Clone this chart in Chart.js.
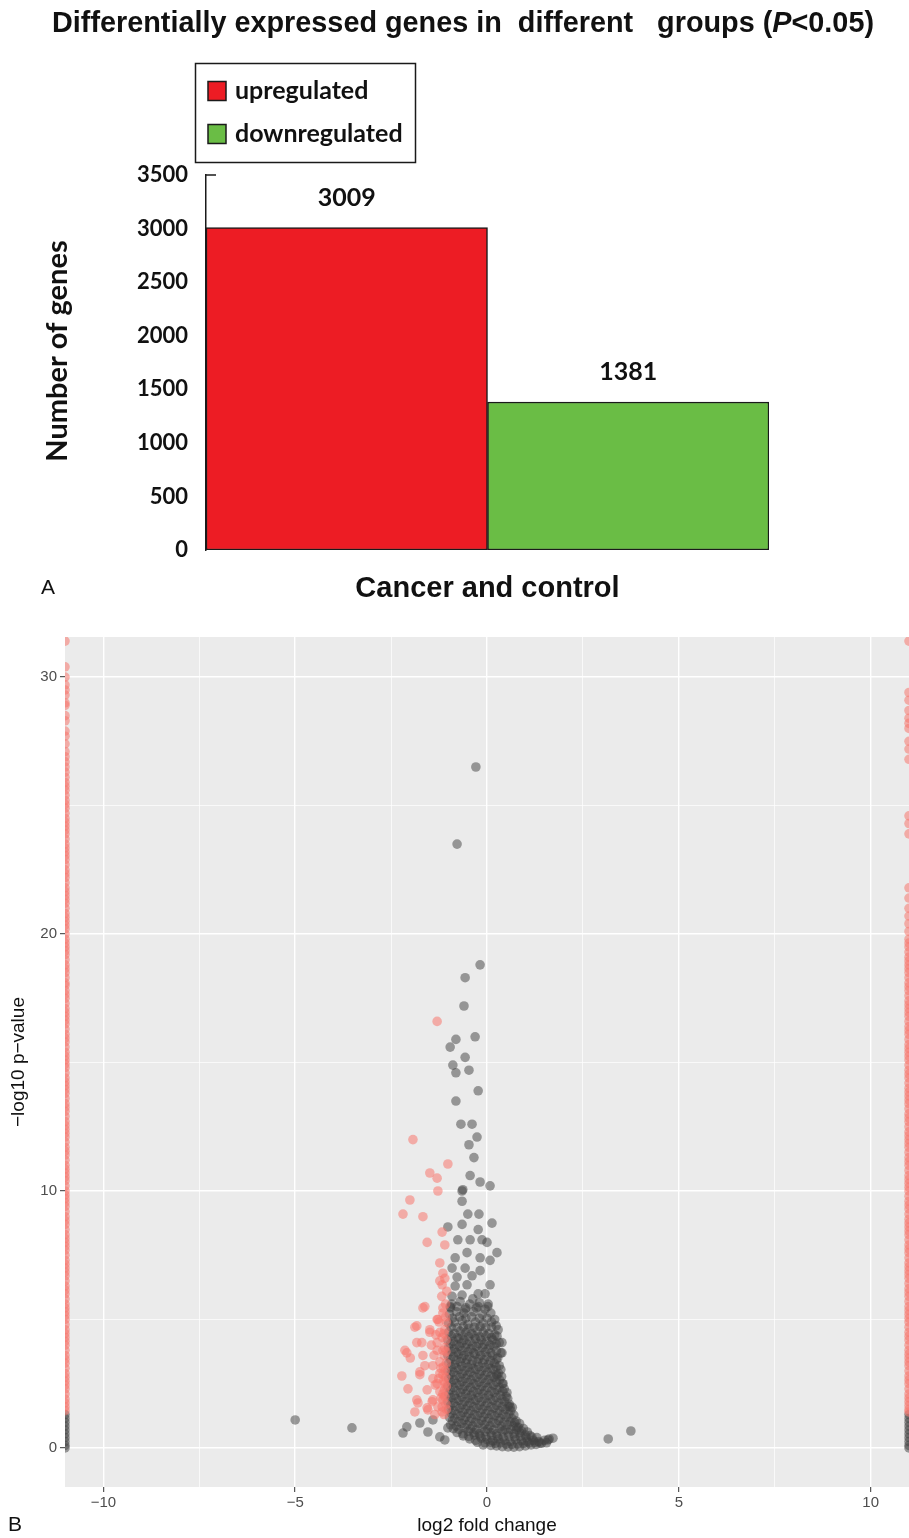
<!DOCTYPE html>
<html>
<head>
<meta charset="utf-8">
<script src="https://cdn.jsdelivr.net/npm/chart.js@4.4.1/dist/chart.umd.min.js"></script>
<style>
  body { margin: 0; background: #fff; }
  #wrap { position: relative; width: 909px; height: 1538px; }
  canvas { position: absolute; left: 0; }
</style>
</head>
<body>
<div id="wrap">
  <canvas id="barA" width="909" height="610" style="top:0"></canvas>
  <canvas id="volcanoB" width="909" height="928" style="top:610px"></canvas>
</div>
<script>
// ---- panel A: DEG counts ----
const groups = ['Cancer and control'];
const seriesNames = ['upregulated', 'downregulated'];
const upregulated = [3009];
const downregulated = [1381];
const countTicks = [0, 500, 1000, 1500, 2000, 2500, 3000, 3500];

// ---- panel B: volcano (log2 fold change, -log10 p) ----
const fcTicks = [-10, -7.5, -5, -2.5, 0, 2.5, 5, 7.5, 10];
const pTicks = [0, 5, 10, 15, 20, 25, 30];
const fcRange = [-11, 11];
const pRange = [-1.52, 31.56];

// significant genes (red)
const sigPoints = [
  [-1.30,16.6],[-1.93,12.0],[-1.02,11.05],[-1.49,10.7],[-1.30,10.5],[-1.28,10.0],[-2.01,9.65],[-2.19,9.1],
  [-1.67,9.0],[-1.17,8.4],[-1.56,8.0],[-1.10,7.9],[-1.23,7.2],[-1.15,6.8],[-1.23,6.5],[-1.17,6.35],
  [-1.62,5.5],[-1.15,5.45],[-1.28,5.0],[-1.83,4.75],[-1.49,4.6],[-1.23,4.5],[-1.67,5.45],[-1.30,5.0],
  [-1.15,5.25],[-1.88,4.7],[-1.49,4.5],[-1.17,4.3],[-2.14,3.8],[-1.70,4.1],[-1.30,3.8],[-1.10,3.9],
  [-2.0,3.5],[-1.62,3.2],[-1.23,3.35],[-2.22,2.8],[-1.75,2.85],[-1.41,2.7],[-1.15,2.85],[-2.06,2.3],
  [-1.56,2.26],[-1.23,2.2],[-1.83,1.87],[-1.43,1.8],[-1.15,1.87],[-1.88,1.4],[-1.54,1.48],[-1.17,1.4],
  [-2.09,3.7],[-1.83,4.1],[-1.67,3.6],[-1.30,4.1],[-1.15,3.8],[-1.41,3.2],[-1.75,2.96],[-1.23,2.9],
  [-1.30,2.5],[-1.15,2.1],[-1.80,1.75],[-1.41,1.87],[-1.56,1.56],[-1.17,1.6],[-1.10,2.5],
  [-1.08,5.6],[-1.06,4.9],[-1.10,4.6],[-1.07,4.2],[-1.12,3.6],[-1.06,3.3],[-1.09,3.0],[-1.13,2.6],
  [-1.06,2.4],[-1.10,2.0],[-1.07,1.7],[-1.12,1.3],[-1.05,6.1],[-1.10,6.6],[-1.18,5.9],[-1.25,4.9],
  [-1.33,4.4],[-1.20,3.1],[-1.35,2.45],[-1.28,1.6],[-1.38,3.6],[-1.45,4.0],[-1.26,2.7],[-1.36,1.3],
  [-1.08,5.1],[-1.12,4.45],[-1.07,3.75],[-1.14,3.15],[-1.08,2.75],[-1.11,2.25],[-1.06,1.5],[-1.2,1.95]
];

// non-significant genes (grey): scattered points
const nsOutliers = [
  [-0.29,26.5],[-0.78,23.5],[-0.18,18.8],[-0.57,18.3],[-0.60,17.2],[-0.31,16.0],[-0.81,15.9],[-0.96,15.6],
  [-0.57,15.2],[-0.89,14.9],[-0.81,14.6],[-0.47,14.7],[-0.23,13.9],[-0.81,13.5],[-0.68,12.6],[-0.39,12.6],
  [-0.26,12.1],[-0.47,11.8],[-0.34,11.3],[-0.44,10.6],[-0.18,10.35],[0.08,10.2],[-0.65,10.0],[-0.63,10.05],
  [-0.65,9.6],[-0.50,9.1],[-0.21,9.1],[0.13,8.75],[-1.02,8.6],[-0.65,8.7],[-0.23,8.5],[-0.76,8.1],
  [-0.44,8.1],[-0.13,8.1],[0.0,8.0],[0.26,7.6],[-0.83,7.4],[-0.52,7.6],[-0.18,7.4],[0.08,7.3],
  [-0.91,7.0],[-0.57,7.0],[-0.78,6.65],[-0.39,6.7],[-0.18,6.9],[0.08,6.35],[-0.83,6.3],[-0.52,6.35],
  [-0.23,6.0],[-0.91,5.9],[-0.65,5.95],[-0.37,5.8],[-0.05,6.0],[0.03,5.6],[-0.96,5.5],[-0.57,5.4],
  [-0.23,5.5],[0.29,4.6],[0.39,4.1],[0.39,3.7],[0.26,2.8],[0.60,1.6],[0.78,0.8],
  [-2.19,0.58],[-2.09,0.82],[-1.75,0.97],[-1.54,0.62],[-1.41,1.09],[-1.23,0.43],[-1.10,0.31],[-1.02,0.78],
  [-5.0,1.09],[-3.52,0.78],[3.16,0.35],[3.75,0.66],[1.59,0.31],[1.38,0.19]
];

// non-significant genes (grey): the dense core near zero
const nsCore = [
  [-0.92,5.6],[-0.70,5.7],[-0.45,5.6],[-0.20,5.65],[0.02,5.5],
  [-0.95,5.45],[-0.78,5.5],[-0.55,5.45],[-0.28,5.45],[-0.05,5.4],
  [-0.98,5.2],[-0.80,5.3],[-0.60,5.25],[-0.35,5.3],[-0.12,5.2],[0.10,5.25],
  [-0.90,5.05],[-0.72,5.1],[-0.55,5.05],[-0.40,5.1],[-0.20,5.05],[0.0,5.05],[0.20,5.0],
  [-1.0,4.85],[-0.85,4.9],[-0.65,4.95],[-0.50,4.8],[-0.30,4.9],[-0.10,4.85],[0.12,4.9],
  [-0.93,4.7],[-0.78,4.68],[-0.62,4.72],[-0.47,4.66],[-0.33,4.7],[-0.18,4.72],[-0.03,4.68],[0.12,4.7],[0.24,4.75],
  [-1.0,4.5],[-0.85,4.45],[-0.70,4.55],[-0.55,4.5],[-0.40,4.45],[-0.25,4.55],[-0.10,4.5],[0.05,4.45],[0.20,4.4],
  [-0.93,4.35],[-0.78,4.3],[-0.63,4.38],[-0.48,4.33],[-0.33,4.36],[-0.18,4.32],[-0.03,4.35],[0.12,4.3],[0.26,4.35],
  [-1.02,4.2],[-0.88,4.15],[-0.73,4.25],[-0.60,4.2],[-0.45,4.15],[-0.30,4.25],[-0.15,4.2],[0.0,4.15],[0.15,4.2],[0.32,4.1],
  [-0.95,4.05],[-0.80,4.02],[-0.66,4.08],[-0.52,4.04],[-0.37,4.0],[-0.22,4.06],[-0.07,4.03],[0.08,4.0],[0.24,4.05],
  [-1.0,3.9],[-0.86,3.85],[-0.72,3.95],[-0.57,3.9],[-0.42,3.85],[-0.28,3.95],[-0.12,3.9],[0.03,3.85],[0.18,3.95],[0.36,3.7],
  [-0.94,3.75],[-0.79,3.72],[-0.65,3.78],[-0.50,3.74],[-0.35,3.7],[-0.20,3.76],[-0.05,3.73],[0.10,3.7],[0.25,3.78],
  [-1.02,3.6],[-0.87,3.55],[-0.74,3.65],[-0.60,3.6],[-0.46,3.55],[-0.31,3.65],[-0.16,3.6],[0.0,3.55],[0.15,3.6],[0.28,3.5],
  [-0.95,3.45],[-0.80,3.42],[-0.66,3.48],[-0.52,3.44],[-0.37,3.4],[-0.22,3.46],[-0.07,3.43],[0.09,3.4],[0.24,3.45],
  [-1.0,3.3],[-0.85,3.25],[-0.70,3.35],[-0.56,3.3],[-0.41,3.25],[-0.26,3.35],[-0.11,3.3],[0.04,3.25],[0.19,3.3],[0.32,3.2],
  [-0.94,3.15],[-0.80,3.12],[-0.65,3.18],[-0.50,3.14],[-0.36,3.1],[-0.21,3.16],[-0.06,3.13],[0.09,3.1],[0.24,3.15],[0.36,3.05],
  [-1.02,3.0],[-0.88,2.95],[-0.73,3.05],[-0.58,3.0],[-0.44,2.95],[-0.29,3.05],[-0.14,3.0],[0.01,2.95],[0.16,3.05],[0.30,2.9],
  [-0.95,2.85],[-0.80,2.82],[-0.65,2.88],[-0.50,2.84],[-0.35,2.8],[-0.20,2.86],[-0.05,2.83],[0.10,2.8],[0.25,2.86],[0.38,2.78],
  [-1.0,2.7],[-0.86,2.65],[-0.71,2.75],[-0.57,2.7],[-0.42,2.65],[-0.27,2.75],[-0.12,2.7],[0.03,2.65],[0.18,2.75],[0.33,2.65],[0.42,2.5],
  [-0.94,2.55],[-0.80,2.52],[-0.65,2.58],[-0.50,2.54],[-0.35,2.5],[-0.20,2.56],[-0.05,2.53],[0.10,2.5],[0.25,2.56],[0.40,2.5],
  [-1.02,2.4],[-0.87,2.35],[-0.72,2.45],[-0.58,2.4],[-0.43,2.35],[-0.28,2.45],[-0.13,2.4],[0.02,2.35],[0.17,2.45],[0.32,2.35],[0.45,2.3],
  [-0.95,2.25],[-0.80,2.22],[-0.64,2.28],[-0.50,2.24],[-0.35,2.2],[-0.20,2.26],[-0.05,2.23],[0.11,2.2],[0.26,2.26],[0.41,2.2],[0.52,2.15],
  [-1.0,2.1],[-0.85,2.05],[-0.70,2.15],[-0.56,2.1],[-0.41,2.05],[-0.26,2.15],[-0.11,2.1],[0.04,2.05],[0.19,2.15],[0.34,2.05],[0.50,2.0],
  [-0.94,1.95],[-0.80,1.92],[-0.65,1.98],[-0.50,1.94],[-0.36,1.9],[-0.21,1.96],[-0.06,1.93],[0.09,1.9],[0.24,1.96],[0.39,1.9],[0.54,1.92],
  [-1.02,1.8],[-0.88,1.75],[-0.73,1.85],[-0.58,1.8],[-0.44,1.75],[-0.29,1.85],[-0.14,1.8],[0.01,1.75],[0.16,1.85],[0.31,1.75],[0.46,1.8],[0.58,1.7],
  [-0.95,1.65],[-0.80,1.62],[-0.65,1.68],[-0.50,1.64],[-0.35,1.6],[-0.20,1.66],[-0.05,1.63],[0.10,1.6],[0.25,1.66],[0.40,1.6],[0.55,1.62],[0.66,1.58],
  [-1.0,1.5],[-0.86,1.45],[-0.71,1.55],[-0.57,1.5],[-0.42,1.45],[-0.27,1.55],[-0.12,1.5],[0.03,1.45],[0.18,1.55],[0.33,1.45],[0.48,1.5],[0.62,1.45],
  [-0.93,1.35],[-0.78,1.32],[-0.63,1.38],[-0.48,1.34],[-0.33,1.3],[-0.18,1.36],[-0.03,1.33],[0.12,1.3],[0.27,1.36],[0.42,1.3],[0.57,1.32],[0.70,1.28],
  [-0.98,1.2],[-0.84,1.15],[-0.69,1.25],[-0.55,1.2],[-0.40,1.15],[-0.25,1.25],[-0.10,1.2],[0.05,1.15],[0.20,1.25],[0.35,1.15],[0.50,1.2],[0.65,1.15],[0.76,1.05],
  [-0.90,1.05],[-0.75,1.02],[-0.60,1.08],[-0.45,1.04],[-0.30,1.0],[-0.15,1.06],[0.0,1.03],[0.15,1.0],[0.30,1.06],[0.45,1.0],[0.60,1.02],[0.72,0.98],[0.85,0.95],
  [-0.95,0.9],[-0.80,0.85],[-0.66,0.95],[-0.52,0.9],[-0.37,0.85],[-0.22,0.95],[-0.07,0.9],[0.08,0.85],[0.23,0.95],[0.38,0.85],[0.53,0.9],[0.68,0.85],[0.82,0.8],[0.95,0.75],
  [-0.88,0.75],[-0.73,0.72],[-0.58,0.78],[-0.43,0.74],[-0.28,0.7],[-0.13,0.76],[0.02,0.73],[0.17,0.7],[0.32,0.76],[0.47,0.7],[0.62,0.72],[0.77,0.7],[0.90,0.66],[1.05,0.62],
  [-0.78,0.6],[-0.63,0.55],[-0.49,0.65],[-0.34,0.6],[-0.20,0.55],[-0.05,0.65],[0.10,0.6],[0.25,0.55],[0.40,0.65],[0.55,0.6],[0.70,0.55],[0.85,0.6],[1.0,0.5],[1.12,0.48],
  [-0.62,0.47],[-0.48,0.45],[-0.33,0.5],[-0.18,0.46],[-0.03,0.44],[0.12,0.48],[0.27,0.45],[0.42,0.42],[0.57,0.46],[0.72,0.43],[0.87,0.45],[1.02,0.4],[1.17,0.42],[1.30,0.4],
  [-0.45,0.35],[-0.30,0.3],[-0.15,0.38],[0.0,0.32],[0.15,0.28],[0.30,0.35],[0.45,0.3],[0.60,0.25],[0.75,0.32],[0.90,0.28],[1.05,0.25],[1.20,0.3],[1.35,0.25],[1.50,0.3],[1.62,0.35],[1.72,0.38],
  [-0.25,0.22],[-0.05,0.2],[0.10,0.22],[0.22,0.18],[0.35,0.2],[0.50,0.15],[0.65,0.14],[0.80,0.16],[0.95,0.18],[1.10,0.2],[1.25,0.22],[1.42,0.18],[1.55,0.2],
  [-0.10,0.12],[0.10,0.1],[0.25,0.08],[0.40,0.05],[0.55,0.04],[0.70,0.03],[0.85,0.05],[1.0,0.08],[1.15,0.12],[1.28,0.14]
];

// genes plotted on the panel edges (infinite fold change), -log10 p only
const leftEdgeSig = [31.4, 30.4, 30.0, 29.7, 29.5, 29.3, 29.0, 28.9, 28.5, 28.3, 27.9, 27.7, 27.4, 27.1, 26.9,
  26.7, 26.5, 26.3, 26.1, 25.9, 25.75, 25.6, 25.4, 25.2, 25.05, 24.9, 24.7, 24.5, 24.35, 24.2, 24.05, 23.9,
  23.7, 23.5, 23.35, 23.2, 23.05, 22.9, 22.7, 22.5, 22.35, 22.2, 22.0, 21.8, 21.65, 21.5, 21.35, 21.2, 21.0,
  20.8, 20.65, 20.5, 20.35, 20.2, 20.0, 19.8, 19.65, 19.5, 19.35, 19.2, 19.0, 18.8, 18.65, 18.5, 18.3, 18.1,
  18.0, 17.8, 17.65, 17.5, 17.3, 17.1, 16.95, 16.8, 16.65, 16.5, 16.3, 16.1, 15.95, 15.8, 15.6, 15.4, 15.25,
  15.1, 14.95, 14.8, 14.6, 14.4, 14.25, 14.1, 13.95, 13.8, 13.6, 13.4, 13.25, 13.1, 12.9, 12.7, 12.55, 12.4,
  12.25, 12.1, 11.9, 11.7, 11.55, 11.4, 11.2, 11.0, 10.85, 10.7, 10.55, 10.4, 10.2, 10.0, 9.85, 9.7, 9.55,
  9.4, 9.2, 9.0, 8.85, 8.7, 8.5, 8.3, 8.15, 8.0, 7.85, 7.7, 7.5, 7.3, 7.15, 7.0, 6.85, 6.7, 6.5, 6.3, 6.15,
  6.0, 5.8, 5.6, 5.45, 5.3, 5.15, 5.0, 4.8, 4.6, 4.45, 4.3, 4.15, 4.0, 3.8, 3.6, 3.45, 3.3, 3.1, 2.9, 2.75,
  2.6, 2.45, 2.3, 2.1, 1.9, 1.75, 1.6, 1.45];
const leftEdgeNs = [1.3, 1.15, 1.0, 0.85, 0.7, 0.55, 0.4, 0.25, 0.1, 0.0];
const rightEdgeSig = [31.4, 29.4, 29.1, 28.7, 28.4, 28.2, 28.0, 27.5, 27.2, 26.8, 24.6, 24.3, 23.9, 21.8,
  21.4, 21.0, 20.7, 20.4, 20.1, 19.8, 19.65, 19.5, 19.3, 19.1, 18.95, 18.8, 18.65, 18.5, 18.3, 18.1, 17.95,
  17.8, 17.6, 17.4, 17.25, 17.1, 16.95, 16.8, 16.6, 16.4, 16.25, 16.1, 15.9, 15.7, 15.55, 15.4, 15.25, 15.1,
  14.9, 14.7, 14.55, 14.4, 14.2, 14.0, 13.85, 13.7, 13.55, 13.4, 13.2, 13.0, 12.85, 12.7, 12.5, 12.3, 12.15,
  12.0, 11.85, 11.7, 11.5, 11.3, 11.15, 11.0, 10.8, 10.6, 10.45, 10.3, 10.15, 10.0, 9.8, 9.6, 9.45, 9.3, 9.1,
  8.9, 8.75, 8.6, 8.45, 8.3, 8.1, 7.9, 7.75, 7.6, 7.4, 7.2, 7.05, 6.9, 6.75, 6.6, 6.4, 6.2, 6.05, 5.9, 5.7,
  5.5, 5.35, 5.2, 5.05, 4.9, 4.7, 4.5, 4.35, 4.2, 4.0, 3.8, 3.65, 3.5, 3.35, 3.2, 3.0, 2.8, 2.65, 2.5, 2.3,
  2.1, 1.95, 1.8, 1.65, 1.5, 1.4];
const rightEdgeNs = [1.3, 1.15, 1.0, 0.85, 0.7, 0.55, 0.4, 0.25, 0.1, 0.0];

const calibriLike = 'Lato, "Open Sans", sans-serif';
const arialLike = '"Liberation Sans", Arial, sans-serif';

// title, legend box, value labels, axis title and panel letter for A
const barDecor = {
  id: 'barDecor',
  afterDraw(chart) {
    const ctx = chart.ctx;
    const area = chart.chartArea;
    const yScale = chart.scales.y;
    ctx.save();
    ctx.fillStyle = '#111';
    ctx.textBaseline = 'middle';

    // title, squeezed to the width used in the figure
    const parts = [
      ['Differentially expressed genes in  different   groups (', 'bold 29px ' + arialLike],
      ['P', 'italic bold 29px ' + arialLike],
      ['<0.05)', 'bold 29px ' + arialLike]
    ];
    let total = 0;
    parts.forEach(p => { ctx.font = p[1]; total += ctx.measureText(p[0]).width; });
    ctx.save();
    ctx.translate(52, 24);
    ctx.scale(822 / total, 1);
    let tx = 0;
    ctx.textAlign = 'left';
    parts.forEach(p => { ctx.font = p[1]; ctx.fillText(p[0], tx, 0); tx += ctx.measureText(p[0]).width; });
    ctx.restore();

    // legend box
    ctx.strokeStyle = '#1a1a1a';
    ctx.lineWidth = 1.5;
    ctx.strokeRect(195.5, 63.5, 220, 99);
    chart.data.datasets.forEach((ds, i) => {
      const cy = 91 + i * 43;
      ctx.fillStyle = ds.backgroundColor;
      ctx.fillRect(208, cy - 9.5, 18, 19);
      ctx.strokeRect(208, cy - 9.5, 18, 19);
      ctx.fillStyle = '#111';
      ctx.font = 'bold 25px ' + calibriLike;
      ctx.textAlign = 'left';
      ctx.fillText(ds.label, 235, cy);
    });

    // value labels above the bars
    ctx.font = 'bold 25px ' + calibriLike;
    ctx.textAlign = 'center';
    chart.data.datasets.forEach((ds, i) => {
      chart.getDatasetMeta(i).data.forEach((bar, j) => {
        ctx.fillText(String(ds.data[j]), bar.x, bar.y - 30);
      });
    });

    // small tick at the top of the value axis
    const yTop = yScale.getPixelForValue(yScale.max);
    ctx.beginPath();
    ctx.moveTo(area.left, yTop);
    ctx.lineTo(area.left + 10, yTop);
    ctx.stroke();

    // value axis title
    ctx.save();
    ctx.translate(58, 351);
    ctx.rotate(-Math.PI / 2);
    ctx.font = 'bold 29px ' + calibriLike;
    ctx.fillText('Number of genes', 0, 0);
    ctx.restore();

    // panel letter
    ctx.font = '21px ' + arialLike;
    ctx.textAlign = 'left';
    ctx.fillText('A', 41, 588);
    ctx.restore();
  }
};

new Chart(document.getElementById('barA'), {
  type: 'bar',
  data: {
    labels: groups,
    datasets: [
      { label: seriesNames[0], data: upregulated, backgroundColor: '#ED1C24', borderColor: '#1a1a1a',
        borderWidth: 1.5, borderSkipped: false, categoryPercentage: 1, barPercentage: 1 },
      { label: seriesNames[1], data: downregulated, backgroundColor: '#6ABD45', borderColor: '#1a1a1a',
        borderWidth: 1.5, borderSkipped: false, categoryPercentage: 1, barPercentage: 1 }
    ]
  },
  options: {
    responsive: false,
    animation: false,
    devicePixelRatio: 1,
    layout: { autoPadding: false, padding: { top: 175, right: 140, bottom: 0, left: 0 } },
    plugins: { legend: { display: false }, tooltip: { enabled: false } },
    scales: {
      x: {
        grid: { display: false },
        border: { display: false },
        ticks: { color: '#111', padding: 14, font: { family: arialLike, size: 29, weight: 'bold' } },
        afterFit(scale) { scale.height = 60; }
      },
      y: {
        min: countTicks[0],
        max: countTicks[countTicks.length - 1],
        afterBuildTicks(scale) { scale.ticks = countTicks.map(v => ({ value: v })); },
        grid: { display: false, drawTicks: false },
        border: { display: true, color: '#1a1a1a', width: 1.5 },
        ticks: { color: '#111', padding: 18, font: { family: calibriLike, size: 22, weight: 'bold' },
          callback: v => String(v) },
        afterFit(scale) { scale.width = 206; }
      }
    }
  },
  plugins: [barDecor]
});

// grey panel background + panel letter for B
const volcanoDecor = {
  id: 'volcanoDecor',
  beforeDraw(chart) {
    const { ctx, chartArea: a } = chart;
    ctx.save();
    ctx.fillStyle = '#EBEBEB';
    ctx.fillRect(a.left, a.top, a.right - a.left, a.bottom - a.top);
    ctx.restore();
  },
  afterDraw(chart) {
    const ctx = chart.ctx;
    ctx.save();
    ctx.fillStyle = '#111';
    ctx.font = '21px ' + arialLike;
    ctx.textBaseline = 'middle';
    ctx.fillText('B', 8, 915);
    ctx.restore();
  }
};

const toXY = p => ({ x: p[0], y: p[1] });
const sigData = sigPoints.map(toXY)
  .concat(leftEdgeSig.map(y => ({ x: fcRange[0], y })))
  .concat(rightEdgeSig.map(y => ({ x: fcRange[1], y })));
const nsData = nsCore.map(toXY)
  .concat(nsOutliers.map(toXY))
  .concat(leftEdgeNs.map(y => ({ x: fcRange[0], y })))
  .concat(rightEdgeNs.map(y => ({ x: fcRange[1], y })));

const minusLabel = v => (v < 0 ? '\u2212' + Math.abs(v) : String(v));

new Chart(document.getElementById('volcanoB'), {
  type: 'scatter',
  data: {
    datasets: [
      { label: 'significant', data: sigData, backgroundColor: 'rgba(248,118,109,0.55)',
        pointRadius: 4.8, pointHoverRadius: 4.8, borderWidth: 0, clip: 0 },
      { label: 'not significant', data: nsData, backgroundColor: 'rgba(64,64,64,0.5)',
        pointRadius: 4.8, pointHoverRadius: 4.8, borderWidth: 0, clip: 0 }
    ]
  },
  options: {
    responsive: false,
    animation: false,
    devicePixelRatio: 1,
    layout: { autoPadding: false, padding: { top: 27, right: 0, bottom: 0, left: 0 } },
    plugins: { legend: { display: false }, tooltip: { enabled: false } },
    scales: {
      x: {
        type: 'linear',
        min: fcRange[0],
        max: fcRange[1],
        afterBuildTicks(scale) { scale.ticks = fcTicks.map(v => ({ value: v })); },
        afterFit(scale) { scale.height = 51; },
        border: { display: false },
        grid: {
          color: '#ffffff',
          lineWidth: c => (c.tick && c.tick.value % 5 === 0 ? 1.4 : 0.7),
          tickColor: c => (c.tick && c.tick.value % 5 === 0 ? '#333333' : 'rgba(0,0,0,0)'),
          tickLength: 5,
          tickWidth: 1
        },
        ticks: {
          autoSkip: false, maxRotation: 0, padding: 2, color: '#4D4D4D',
          font: { family: arialLike, size: 15 },
          callback: v => (v % 5 === 0 ? minusLabel(v) : '')
        },
        title: { display: true, text: 'log2 fold change', color: '#111',
          font: { family: arialLike, size: 19 }, padding: { top: 0, bottom: 1 } }
      },
      y: {
        type: 'linear',
        min: pRange[0],
        max: pRange[1],
        afterBuildTicks(scale) { scale.ticks = pTicks.map(v => ({ value: v })); },
        afterFit(scale) { scale.width = 65; },
        border: { display: false },
        grid: {
          color: '#ffffff',
          lineWidth: c => (c.tick && c.tick.value % 10 === 0 ? 1.4 : 0.7),
          tickColor: c => (c.tick && c.tick.value % 10 === 0 ? '#333333' : 'rgba(0,0,0,0)'),
          tickLength: 5,
          tickWidth: 1
        },
        ticks: {
          autoSkip: false, padding: 3, color: '#4D4D4D',
          font: { family: arialLike, size: 15 },
          callback: v => (v % 10 === 0 ? minusLabel(v) : '')
        },
        title: { display: true, text: '\u2212log10 p\u2212value', color: '#111',
          font: { family: arialLike, size: 19 }, padding: { top: 7, bottom: 0 } }
      }
    }
  },
  plugins: [volcanoDecor]
});
</script>
</body>
</html>
